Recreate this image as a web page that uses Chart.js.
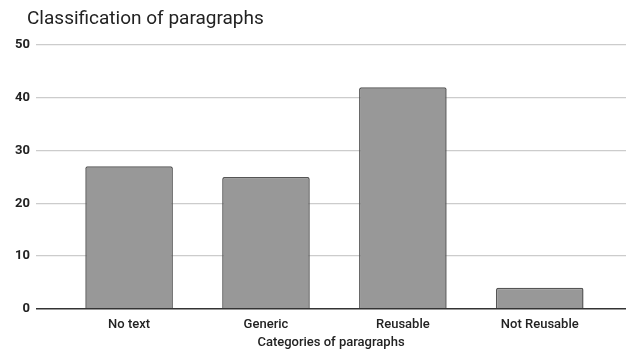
<!DOCTYPE html>
<html>
<head>
<meta charset="utf-8">
<script src="https://cdn.jsdelivr.net/npm/chart.js@4"></script>
<style>
  html, body { margin: 0; padding: 0; background: #fff; }
  #wrap { width: 634px; height: 355px; }
</style>
</head>
<body>
<div id="wrap"><canvas id="c" width="634" height="355"></canvas></div>
<script>
const categories = ['No text', 'Generic', 'Reusable', 'Not Reusable'];
const counts = [27, 25, 42, 4];
const yTicks = [0, 10, 20, 30, 40, 50];
const chartTitle = 'Classification of paragraphs';

const FONT = 'Roboto, "Liberation Sans", Arial, sans-serif';

// Heading drawn at the top-left corner, independent of the plot box.
const headingPlugin = {
  id: 'heading',
  afterDraw(chart) {
    const ctx = chart.ctx;
    ctx.save();
    ctx.font = '19px ' + FONT;
    ctx.fillStyle = '#222';
    ctx.textAlign = 'left';
    ctx.textBaseline = 'middle';
    ctx.fillText(chartTitle, 27, 19);
    ctx.restore();
  }
};

new Chart(document.getElementById('c'), {
  type: 'bar',
  data: {
    datasets: [{
      label: 'Count',
      data: counts.map((v, i) => ({ x: i, y: v })),
      backgroundColor: '#989898',
      borderColor: '#555555',
      borderWidth: 1.5,
      borderSkipped: 'bottom',
      borderRadius: 2,
      barPercentage: 0.8,
      categoryPercentage: 0.8
    }]
  },
  plugins: [headingPlugin],
  options: {
    responsive: false,
    animation: false,
    layout: { padding: { left: 0, right: 8, top: 45, bottom: 4 } },
    plugins: {
      legend: { display: false },
      tooltip: { enabled: false },
      title: { display: false }
    },
    scales: {
      x: {
        type: 'linear',
        offset: false,
        min: -0.68,
        max: 3.63,
        grid: { display: false, offset: false },
        border: { display: false },
        ticks: {
          stepSize: 1,
          includeBounds: false,
          autoSkip: false,
          maxRotation: 0,
          color: '#222',
          padding: 0,
          font: { family: FONT, size: 13, weight: '500' },
          callback: (v) => Number.isInteger(v) && categories[v] !== undefined ? categories[v] : ''
        },
        title: {
          display: true,
          text: 'Categories of paragraphs',
          color: '#222',
          font: { family: FONT, size: 13, weight: '500' },
          padding: { top: 3, bottom: 0 }
        }
      },
      y: {
        min: yTicks[0],
        max: yTicks[yTicks.length - 1],
        afterBuildTicks: (scale) => { scale.ticks = yTicks.map(v => ({ value: v })); },
        afterFit: (scale) => { scale.width = 36; },
        border: { display: false },
        grid: {
          color: (ctx) => ctx.tick && ctx.tick.value === 0 ? '#333333' : '#cccccc',
          lineWidth: (ctx) => ctx.tick && ctx.tick.value === 0 ? 1.5 : 1.2,
          drawTicks: false
        },
        ticks: {
          color: '#222',
          padding: 6,
          font: { family: FONT, size: 13, weight: 'bold' }
        }
      }
    }
  }
});
</script>
</body>
</html>
